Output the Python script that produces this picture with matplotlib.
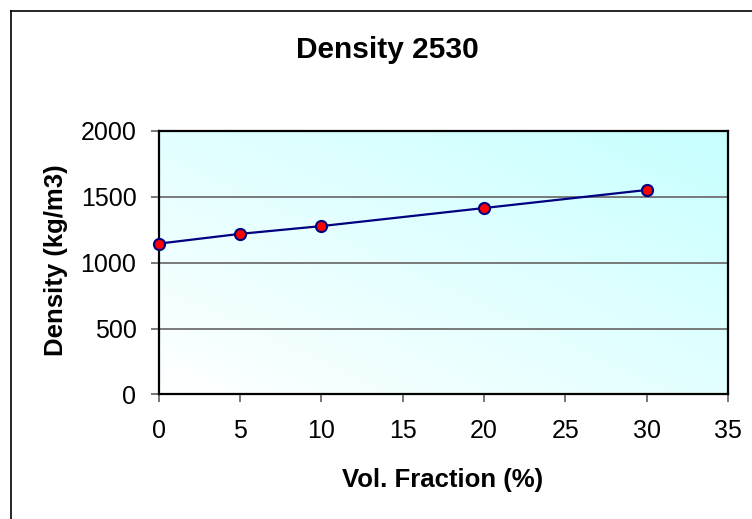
import numpy as np
import matplotlib.pyplot as plt
from matplotlib.lines import Line2D

plt.rcParams['font.family'] = ['Liberation Sans', 'DejaVu Sans']

vol_fraction = [0, 5, 10, 20, 30]
density = [1144, 1218, 1277, 1414, 1551]
x_ticks = [0, 5, 10, 15, 20, 25, 30, 35]
y_ticks = [0, 500, 1000, 1500, 2000]

fig = plt.figure(figsize=(7.52, 5.19), dpi=100)
ax = fig.add_axes([0.211, 0.240, 0.757, 0.508])

# plot area gradient: white at bottom-left -> light cyan at top-right
gx, gy = np.meshgrid(np.linspace(0, 1, 200), np.linspace(0, 1, 200))
t = (gx + gy) / 2
white = np.array([1.0, 1.0, 1.0])
cyan = np.array([0.78, 1.0, 1.0])
img = white[None, None, :] * (1 - t[..., None]) + cyan[None, None, :] * t[..., None]
ax.imshow(img, extent=[0, 1, 0, 1], transform=ax.transAxes, origin='lower',
          aspect='auto', zorder=0)

ax.set_xlim(0, 35)
ax.set_ylim(0, 2000)
ax.set_xticks(x_ticks)
ax.set_yticks(y_ticks)
ax.grid(axis='y', color='#707070', linewidth=1.3, zorder=1)
ax.set_axisbelow(True)

ax.plot(vol_fraction, density, color='#000080', linewidth=1.6,
        marker='o', markersize=8, markerfacecolor='red',
        markeredgecolor='#000080', markeredgewidth=1.5, zorder=3,
        clip_on=False)

for s in ax.spines.values():
    s.set_color('black')
    s.set_linewidth(1.6)

ax.tick_params(direction='out', length=6, width=1.2, color='#606060',
               labelsize=18)
ax.tick_params(axis='x', pad=12)
ax.tick_params(axis='y', pad=10)

fig.text(0.588, 0.0617, 'Vol. Fraction (%)', ha='center', va='baseline',
         fontsize=18.5, fontweight='bold')
fig.text(0.0838, 0.499, 'Density (kg/m3)', ha='center', va='baseline',
         rotation=90, rotation_mode='anchor', fontsize=18.5, fontweight='bold')
fig.text(0.515, 0.904, 'Density 2530', ha='center', va='center',
         fontsize=21.5, fontweight='bold')

# chart border (only top and left edge visible in the image)
fig.add_artist(Line2D([0.0146, 0.0146], [0, 0.979], color='black', linewidth=1.2))
fig.add_artist(Line2D([0.0146, 1.0], [0.979, 0.979], color='black', linewidth=1.2))

fig.savefig('out.png', dpi=100)
